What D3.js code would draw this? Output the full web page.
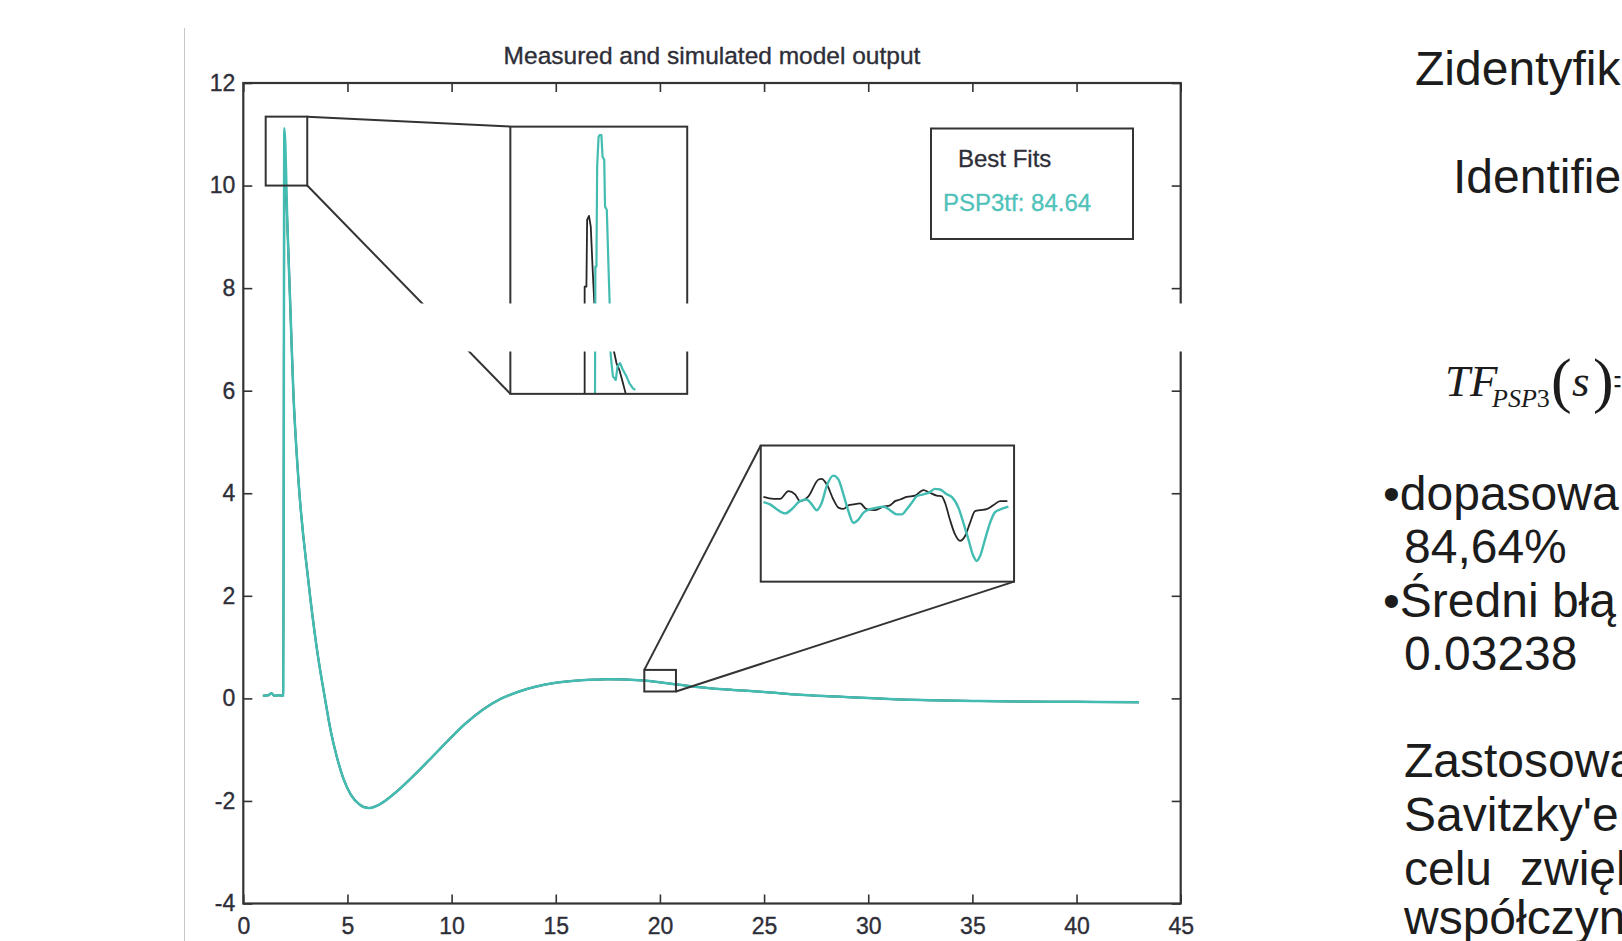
<!DOCTYPE html>
<html><head><meta charset="utf-8">
<script src="https://cdn.jsdelivr.net/npm/d3@7"></script>
<style>
html,body{margin:0;padding:0;background:#fff;overflow:hidden}
svg{display:block}
</style></head><body>
<svg id="c" width="1622" height="941"></svg>
<script>
// ---------- data ----------
const xTicks = [0, 5, 10, 15, 20, 25, 30, 35, 40, 45];
const yTicks = [-4, -2, 0, 2, 4, 6, 8, 10, 12];
const chartTitle = "Measured and simulated model output";
const legendTitle = "Best Fits";
const legendEntry = "PSP3tf: 84.64";

const time = [0.94, 1.2, 1.35, 1.5, 1.7, 1.92, 1.97, 2.12, 2.26, 2.4, 2.64, 3.12, 3.52, 3.92, 4.21, 4.47,
  4.81, 5.15, 5.58, 6.01, 6.53, 7.21, 8.07, 8.93, 9.79, 10.64, 11.5, 12.35, 13.21, 14.07, 14.93,
  15.78, 16.64, 17.5, 18.35, 19.21, 20.07, 20.93, 21.79, 22.64, 23.5, 25, 26.7, 28.5, 30, 31.5,
  33, 35, 37, 39, 41, 43];
const simulated = [0.05, 0.06, 0.1, 0.05, 0.06, 0.05, 11.12, 9.2, 7.6, 6.0, 4.3, 2.3, 1.0, 0.0, -0.66, -1.11,
  -1.57, -1.87, -2.07, -2.14, -2.07, -1.87, -1.55, -1.2, -0.84, -0.5, -0.22, -0.01, 0.13, 0.23, 0.3,
  0.34, 0.365, 0.375, 0.37, 0.35, 0.31, 0.265, 0.22, 0.19, 0.165, 0.125, 0.07, 0.035, 0.005, -0.02,
  -0.035, -0.05, -0.06, -0.065, -0.07, -0.075];
const measured = [0.05, 0.06, 0.1, 0.05, 0.06, 0.05, 10.37, 9.2, 7.6, 6.0, 4.3, 2.3, 1.0, 0.0, -0.66, -1.11,
  -1.57, -1.87, -2.07, -2.14, -2.07, -1.87, -1.55, -1.2, -0.84, -0.5, -0.22, -0.01, 0.13, 0.23, 0.3,
  0.34, 0.365, 0.375, 0.37, 0.35, 0.31, 0.265, 0.22, 0.19, 0.165, 0.125, 0.07, 0.035, 0.005, -0.02,
  -0.035, -0.05, -0.06, -0.065, -0.07, -0.075];

// zoom 1 (peak) : magnified region [x0, x1, y0, y1] and where it is shown (data units)
const zoom1Region = [1.075, 3.07, 10.0, 11.344];
const zoom1Shown = [12.82, 21.31, 5.938, 11.149];
const zoom1MeasTime = [1.913, 1.913, 1.933, 1.941, 1.962, 1.982, 2.002, 2.022, 2.244, 2.272, 2.304, 2.336, 2.377];
const zoom1MeasVal = [10.0, 10.539, 10.539, 10.875, 10.895, 10.841, 10.640, 10.457, 10.213, 10.155, 10.121, 10.07, 10.0];
const zoom1SimTime = [2.030, 2.034, 2.046, 2.054, 2.070, 2.082, 2.102, 2.115, 2.134, 2.143, 2.163, 2.183, 2.195,
  2.204, 2.216, 2.232, 2.264, 2.284, 2.312, 2.344, 2.385, 2.417, 2.458, 2.485];
const zoom1SimVal = [10.0, 10.640, 10.640, 11.143, 11.292, 11.302, 11.302, 11.193, 11.177, 10.942, 10.925, 10.624, 10.457,
  10.213, 10.155, 10.088, 10.07, 10.137, 10.155, 10.121, 10.088, 10.054, 10.028, 10.02];

// zoom 2 (tail) : magnified region and where it is shown (data units)
const zoom2Region = [19.25, 20.77, 0.134, 0.555];
const zoom2Shown = [24.84, 37.0, 2.276, 4.931];
const zoom2MeasTime = [19.266, 19.326, 19.366, 19.416, 19.456, 19.486, 19.536, 19.597, 19.616, 19.646, 19.686, 19.716,
  19.746, 19.776, 19.806, 19.846, 19.885, 19.936, 19.986, 20.026, 20.056, 20.086, 20.126, 20.176, 20.226, 20.265,
  20.306, 20.336, 20.356, 20.385, 20.416, 20.446, 20.476, 20.506, 20.536, 20.566, 20.606, 20.645, 20.686, 20.73];
const zoom2MeasVal = [0.396, 0.390, 0.390, 0.414, 0.404, 0.383, 0.398, 0.450, 0.452, 0.435, 0.388, 0.363,
  0.359, 0.370, 0.373, 0.376, 0.358, 0.355, 0.366, 0.370, 0.383, 0.388, 0.396, 0.400, 0.417, 0.409,
  0.400, 0.398, 0.378, 0.326, 0.280, 0.260, 0.275, 0.316, 0.352, 0.355, 0.358, 0.370, 0.383, 0.383];
const zoom2SimTime = [19.266, 19.306, 19.346, 19.396, 19.436, 19.486, 19.526, 19.556, 19.586, 19.616, 19.646, 19.686,
  19.716, 19.746, 19.776, 19.806, 19.836, 19.866, 19.906, 19.946, 19.986, 20.026, 20.066, 20.096, 20.126, 20.156,
  20.186, 20.226, 20.265, 20.296, 20.326, 20.366, 20.396, 20.436, 20.466, 20.496, 20.526, 20.546, 20.566, 20.596,
  20.626, 20.656, 20.696, 20.736];
const zoom2SimVal = [0.380, 0.373, 0.358, 0.345, 0.358, 0.383, 0.388, 0.373, 0.355, 0.378, 0.430, 0.462,
  0.450, 0.404, 0.352, 0.316, 0.326, 0.347, 0.358, 0.363, 0.366, 0.355, 0.342, 0.342, 0.358, 0.378,
  0.398, 0.404, 0.411, 0.421, 0.419, 0.404, 0.396, 0.363, 0.316, 0.265, 0.213, 0.198, 0.213, 0.265,
  0.316, 0.349, 0.359, 0.366];

const sideLines = ["Zidentyfik", "Identifie"];
const bulletLines = ["\u2022dopasowa", "84,64%", "\u2022\u015aredni b\u0142\u0105", "0.03238"];
const noteLines = ["Zastosowa", "Savitzky'e", "celu", "zwi\u0119k", "wsp\u00f3\u0142czyn"];

// ---------- drawing ----------
const W = 1622, H = 941;
const TEAL = "#43bcb2", DARK = "#333333", BLK = "#262626";
const svg = d3.select("#c");
svg.append("rect").attr("width", W).attr("height", H).attr("fill", "#fff");

// slide separator line
svg.append("line").attr("x1", 184.5).attr("x2", 184.5).attr("y1", 28).attr("y2", H)
  .attr("stroke", "#c6c6c6").attr("stroke-width", 1);

const plot = {left: 243.3, right: 1180.7, top: 83, bottom: 903.5};
const x = d3.scaleLinear().domain([0, 45]).range([plot.left, plot.right]);
const y = d3.scaleLinear().domain([-4, 12]).range([plot.bottom, plot.top]);

const mainLine = vals => d3.line().x((d, i) => x(time[i])).y(d => y(d)).curve(d3.curveMonotoneX)(vals);
svg.append("path").attr("d", mainLine(measured)).attr("fill", "none").attr("stroke", BLK).attr("stroke-width", 2);
svg.append("path").attr("d", mainLine(simulated)).attr("fill", "none").attr("stroke", TEAL).attr("stroke-width", 2.5)
  .attr("stroke-linejoin", "round");

function rectOf(b) { return {x0: x(b[0]), x1: x(b[1]), y0: y(b[2]), y1: y(b[3])}; }

function drawInset(region, shown, series, curve, id) {
  const r = rectOf(region), s = rectOf(shown);
  svg.append("rect").attr("x", r.x0).attr("y", r.y1).attr("width", r.x1 - r.x0).attr("height", r.y0 - r.y1)
    .attr("fill", "none").attr("stroke", DARK).attr("stroke-width", 2);
  const ix = d3.scaleLinear().domain([region[0], region[1]]).range([s.x0, s.x1]);
  const iy = d3.scaleLinear().domain([region[2], region[3]]).range([s.y0, s.y1]);
  svg.append("clipPath").attr("id", id).append("rect")
    .attr("x", s.x0).attr("y", s.y1).attr("width", s.x1 - s.x0).attr("height", s.y0 - s.y1);
  svg.append("rect").attr("x", s.x0).attr("y", s.y1).attr("width", s.x1 - s.x0).attr("height", s.y0 - s.y1)
    .attr("fill", "#fff");
  const g = svg.append("g").attr("clip-path", `url(#${id})`);
  series.forEach(sr => {
    const ln = d3.line().x((d, i) => ix(sr.t[i])).y(d => iy(d)).curve(curve);
    g.append("path").attr("d", ln(sr.v)).attr("fill", "none").attr("stroke", sr.c).attr("stroke-width", sr.w)
      .attr("stroke-linejoin", "round");
  });
  svg.append("rect").attr("x", s.x0).attr("y", s.y1).attr("width", s.x1 - s.x0).attr("height", s.y0 - s.y1)
    .attr("fill", "none").attr("stroke", DARK).attr("stroke-width", 2);
  return {r, s};
}

const z1 = drawInset(zoom1Region, zoom1Shown, [
  {t: zoom1MeasTime, v: zoom1MeasVal, c: BLK, w: 1.8},
  {t: zoom1SimTime, v: zoom1SimVal, c: TEAL, w: 2.2}], d3.curveLinear, "clip1");
svg.append("line").attr("x1", z1.r.x1).attr("y1", z1.r.y1).attr("x2", z1.s.x0).attr("y2", z1.s.y1)
  .attr("stroke", DARK).attr("stroke-width", 2);
svg.append("line").attr("x1", z1.r.x1).attr("y1", z1.r.y0).attr("x2", z1.s.x0).attr("y2", z1.s.y0)
  .attr("stroke", DARK).attr("stroke-width", 2);

const z2 = drawInset(zoom2Region, zoom2Shown, [
  {t: zoom2MeasTime, v: zoom2MeasVal, c: BLK, w: 1.8},
  {t: zoom2SimTime, v: zoom2SimVal, c: TEAL, w: 2.4}], d3.curveMonotoneX, "clip2");
svg.append("line").attr("x1", z2.r.x0).attr("y1", z2.r.y1).attr("x2", z2.s.x0).attr("y2", z2.s.y1)
  .attr("stroke", DARK).attr("stroke-width", 2);
svg.append("line").attr("x1", z2.r.x1).attr("y1", z2.r.y0).attr("x2", z2.s.x1).attr("y2", z2.s.y0)
  .attr("stroke", DARK).attr("stroke-width", 2);

// axes
const FONT = "'Liberation Sans', Arial, sans-serif";
function styleAxis(g) {
  g.select(".domain").remove();
  g.selectAll(".tick line").attr("stroke", DARK).attr("stroke-width", 1.6);
  g.attr("font-family", FONT).attr("font-size", 23).attr("color", "#2e2e38");
  g.selectAll(".tick text").attr("stroke", "#2e2e38").attr("stroke-width", 0.35);
}
svg.append("g").attr("transform", `translate(${plot.left},0)`)
  .call(d3.axisLeft(y).tickValues(yTicks).tickSize(-9).tickPadding(8).tickFormat(d => String(d))).call(styleAxis);
svg.append("g").attr("transform", `translate(${plot.right},0)`)
  .call(d3.axisRight(y).tickValues(yTicks).tickSize(-9).tickFormat("")).call(styleAxis);
svg.append("g").attr("transform", `translate(0,${plot.bottom})`)
  .call(d3.axisBottom(x).tickValues(xTicks).tickSize(-9).tickPadding(14).tickFormat(d => String(d))).call(styleAxis);
svg.append("g").attr("transform", `translate(0,${plot.top})`)
  .call(d3.axisTop(x).tickValues(xTicks).tickSize(-9).tickFormat("")).call(styleAxis);
svg.append("rect").attr("x", plot.left).attr("y", plot.top).attr("width", plot.right - plot.left)
  .attr("height", plot.bottom - plot.top).attr("fill", "none").attr("stroke", DARK).attr("stroke-width", 2.2);

// title
svg.append("text").attr("x", (plot.left + plot.right) / 2).attr("y", 64).attr("text-anchor", "middle")
  .attr("font-family", FONT).attr("font-size", 24.5).attr("fill", "#2e2e38")
  .attr("stroke", "#2e2e38").attr("stroke-width", 0.35).text(chartTitle);

// legend
svg.append("rect").attr("x", 931).attr("y", 128.5).attr("width", 202).attr("height", 110.5)
  .attr("fill", "#fff").attr("stroke", DARK).attr("stroke-width", 2);
svg.append("text").attr("x", 958).attr("y", 167).attr("font-family", FONT).attr("font-size", 24)
  .attr("fill", "#2e2e38").attr("stroke", "#2e2e38").attr("stroke-width", 0.3).text(legendTitle);
svg.append("text").attr("x", 943).attr("y", 211).attr("font-family", FONT).attr("font-size", 24)
  .attr("fill", "#4fc2ba").attr("stroke", "#4fc2ba").attr("stroke-width", 0.3).text(legendEntry);

// white band crossing the chart (as in the source image)
svg.append("rect").attr("x", 415).attr("y", 303.5).attr("width", 785).attr("height", 48).attr("fill", "#fff");

// right-hand slide text
const T = svg.append("g").attr("font-family", FONT).attr("font-size", 48).attr("fill", "#1c1c1c");
T.append("text").attr("x", 1415).attr("y", 85).text(sideLines[0]);
T.append("text").attr("x", 1453).attr("y", 193).text(sideLines[1]);
const bl = [[1383, 510], [1404, 563], [1383, 617], [1404, 670]];
bulletLines.forEach((s, i) => T.append("text").attr("x", bl[i][0]).attr("y", bl[i][1]).text(s));
T.append("text").attr("x", 1404).attr("y", 777).text(noteLines[0]);
T.append("text").attr("x", 1404).attr("y", 831).text(noteLines[1]);
T.append("text").attr("x", 1404).attr("y", 885).text(noteLines[2]);
T.append("text").attr("x", 1520).attr("y", 885).text(noteLines[3]);
T.append("text").attr("x", 1404).attr("y", 934).text(noteLines[4]);

// formula TF_PSP3(s)=
const SERIF = "'Liberation Serif', 'Times New Roman', serif";
const F = svg.append("g").attr("font-family", SERIF).attr("fill", "#1c1c1c");
F.append("text").attr("x", 1445).attr("y", 396).attr("font-size", 45).attr("font-style", "italic").text("TF");
const sub = F.append("text").attr("x", 1492).attr("y", 407).attr("font-size", 26);
sub.append("tspan").attr("font-style", "italic").text("PSP");
sub.append("tspan").text("3");
F.append("text").attr("x", 1551).attr("y", 401).attr("font-size", 62).text("(");
F.append("text").attr("x", 1572).attr("y", 396).attr("font-size", 45).attr("font-style", "italic").text("s");
F.append("text").attr("x", 1593).attr("y", 401).attr("font-size", 62).text(")");
F.append("text").attr("x", 1614).attr("y", 396).attr("font-size", 45).attr("textLength", 7).attr("lengthAdjust", "spacingAndGlyphs").text("=");
</script>
</body></html>
